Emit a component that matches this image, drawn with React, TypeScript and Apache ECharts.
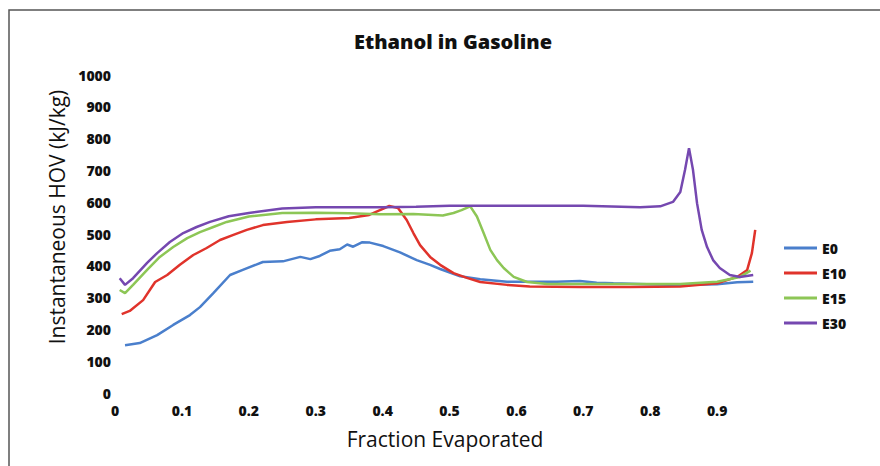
import React, { useEffect, useRef } from "react";
import * as echarts from "echarts";

// Instantaneous heat of vaporization vs. fraction evaporated, [fraction, kJ/kg]
const E0: [number, number][] = [
  [0.015, 150], [0.037, 157], [0.063, 182], [0.087, 214], [0.112, 245], [0.127, 270],
  [0.147, 314], [0.172, 371], [0.191, 387], [0.221, 412], [0.251, 414], [0.277, 428],
  [0.292, 421], [0.306, 431], [0.321, 447], [0.336, 452], [0.347, 467], [0.356, 460],
  [0.369, 474], [0.381, 473], [0.401, 462], [0.426, 442], [0.451, 418], [0.471, 403],
  [0.486, 390], [0.516, 367], [0.546, 358], [0.586, 350], [0.62, 350], [0.66, 350],
  [0.695, 352], [0.72, 347], [0.745, 345], [0.795, 342], [0.845, 340], [0.9, 342],
  [0.93, 348], [0.954, 350],
];

const E10: [number, number][] = [
  [0.01, 248], [0.022, 258], [0.042, 292], [0.06, 349], [0.078, 371], [0.097, 403],
  [0.117, 434], [0.137, 456], [0.157, 481], [0.177, 497], [0.197, 513], [0.221, 528],
  [0.257, 538], [0.3, 546], [0.35, 550], [0.38, 560], [0.396, 575], [0.41, 588],
  [0.423, 582], [0.436, 544], [0.446, 503], [0.456, 465], [0.471, 428], [0.486, 403],
  [0.506, 377], [0.526, 362], [0.546, 349], [0.586, 340], [0.62, 335], [0.695, 333],
  [0.77, 333], [0.845, 335], [0.9, 345], [0.93, 365], [0.945, 387], [0.952, 440],
  [0.957, 513],
];

const E15: [number, number][] = [
  [0.007, 324], [0.015, 314], [0.027, 340], [0.048, 387], [0.067, 428], [0.087, 459],
  [0.108, 487], [0.127, 506], [0.147, 522], [0.167, 538], [0.2, 555], [0.25, 566],
  [0.3, 567], [0.35, 565], [0.396, 562], [0.446, 563], [0.49, 558], [0.506, 566],
  [0.518, 575], [0.531, 587], [0.541, 555], [0.551, 503], [0.561, 450], [0.571, 418],
  [0.581, 393], [0.596, 365], [0.616, 349], [0.646, 343], [0.695, 343], [0.845, 343],
  [0.9, 350], [0.934, 365], [0.95, 385],
];

const E30: [number, number][] = [
  [0.007, 361], [0.015, 340], [0.027, 361], [0.048, 409], [0.063, 440], [0.082, 475],
  [0.102, 503], [0.122, 522], [0.142, 538], [0.17, 556], [0.2, 566], [0.25, 580],
  [0.3, 584], [0.4, 584], [0.45, 586], [0.5, 589], [0.6, 589], [0.7, 589],
  [0.785, 584], [0.815, 587], [0.834, 601], [0.845, 632], [0.852, 701], [0.858, 770],
  [0.864, 701], [0.87, 597], [0.877, 513], [0.885, 459], [0.894, 418], [0.904, 393],
  [0.919, 371], [0.934, 365], [0.954, 371],
];

const SERIES_NAMES = ["E0", "E10", "E15", "E30"];
const SERIES_DATA = [E0, E10, E15, E30];
const COLORS = ["#4a7fcc", "#e0332b", "#8dc656", "#7548b0"];

const FONT = "'Open Sans', 'Liberation Sans', sans-serif";

export default function App() {
  const ref = useRef<HTMLDivElement>(null);

  useEffect(() => {
    if (!ref.current) return;
    const chart = echarts.init(ref.current, undefined, { renderer: "svg" });
    chart.setOption({
      animation: false,
      backgroundColor: "#ffffff",
      grid: { left: 115, right: 96, top: 75, bottom: 73, containLabel: false },
      xAxis: {
        type: "value",
        min: 0,
        max: 1,
        interval: 0.1,
        axisLine: { show: false },
        axisTick: { show: false },
        splitLine: { show: false },
        axisLabel: {
          showMaxLabel: false,
          margin: 10,
          color: "#111",
          fontFamily: FONT,
          fontWeight: 800,
          fontSize: 14,
          formatter: (v: number) => (v === 0 ? "0" : String(Math.round(v * 10) / 10)),
        },
      },
      yAxis: {
        type: "value",
        min: 0,
        max: 1000,
        interval: 100,
        axisLine: { show: false },
        axisTick: { show: false },
        splitLine: { show: false },
        axisLabel: {
          margin: 4,
          color: "#111",
          fontFamily: FONT,
          fontWeight: 800,
          fontSize: 14,
          formatter: (v: number) => String(v),
        },
      },
      legend: {
        orient: "vertical",
        left: 779,
        top: 236,
        itemWidth: 33,
        itemHeight: 3,
        itemGap: 11,
        icon: "rect",
        data: SERIES_NAMES,
        textStyle: { color: "#111", fontFamily: FONT, fontWeight: 800, fontSize: 14 },
      },
      series: SERIES_NAMES.map((name, i) => ({
        name,
        type: "line",
        data: SERIES_DATA[i],
        showSymbol: false,
        smooth: false,
        color: COLORS[i],
        lineStyle: { width: 2.5, color: COLORS[i] },
      })),
      graphic: [
        {
          type: "rect",
          shape: { x: 9, y: 10, width: 1000, height: 1000 },
          style: { fill: "none", stroke: "#555", lineWidth: 1.5 },
          silent: true,
        },
        {
          type: "text",
          x: 453,
          y: 41,
          style: {
            text: "Ethanol in Gasoline",
            fontFamily: FONT,
            fontWeight: 800,
            fontSize: 20,
            fill: "#111",
            textAlign: "center",
            textVerticalAlign: "middle",
          },
        },
        {
          type: "text",
          x: 57,
          y: 217,
          rotation: Math.PI / 2,
          style: {
            text: "Instantaneous HOV (kJ/kg)",
            fontFamily: FONT,
            fontSize: 21,
            fill: "#111",
            textAlign: "center",
            textVerticalAlign: "middle",
          },
        },
        {
          type: "text",
          x: 445,
          y: 439,
          style: {
            text: "Fraction Evaporated",
            fontFamily: FONT,
            fontSize: 21,
            fill: "#111",
            textAlign: "center",
            textVerticalAlign: "middle",
          },
        },
      ],
    });
    return () => chart.dispose();
  }, []);

  return (
    <div
      ref={ref}
      style={{ position: "fixed", left: 0, top: 0, width: 880, height: 466 }}
    />
  );
}
